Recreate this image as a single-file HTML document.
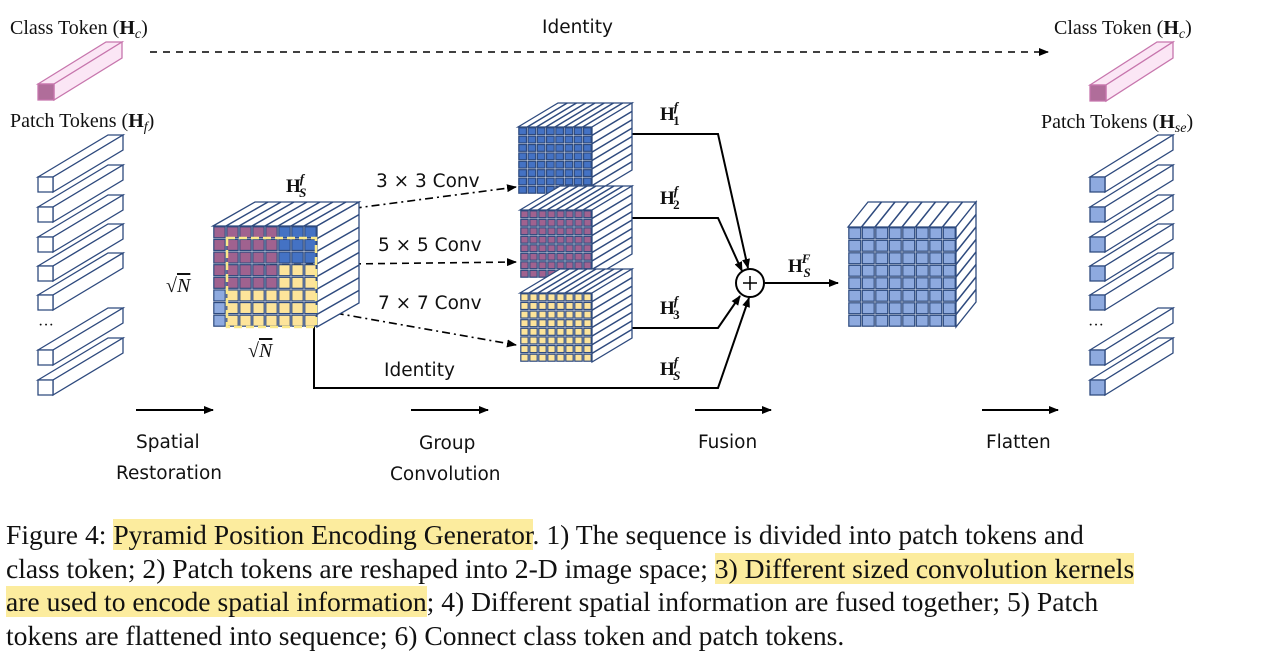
<!DOCTYPE html>
<html><head><meta charset="utf-8"><style>
body{margin:0;background:#fff;width:1276px;height:658px;overflow:hidden;font-family:"Liberation Serif",serif}
svg text{font-family:"Liberation Serif",serif}
svg .sn{font-family:"DejaVu Sans","Liberation Sans",sans-serif}
.cap{position:absolute;left:6px;top:518px;width:1270px;font-size:27.6px;line-height:33.7px;color:#111;white-space:nowrap}
.hl{background:#fcec9e}
</style></head><body>
<svg id="s" width="1276" height="515" style="position:absolute;left:0;top:0" xmlns="http://www.w3.org/2000/svg">
<defs><marker id="a" markerWidth="10" markerHeight="8" refX="9" refY="4" orient="auto" markerUnits="userSpaceOnUse"><path d="M0,0 L10,4 L0,8 z" fill="#000"/></marker></defs>
<g font-size="20" fill="#111">
<text x="10" y="34">Class Token (<tspan font-weight="bold">H</tspan><tspan font-style="italic" font-size="14" dy="4">c</tspan><tspan dy="-4">)</tspan></text>
<text x="10" y="127">Patch Tokens (<tspan font-weight="bold">H</tspan><tspan font-style="italic" font-size="14" dy="4">f</tspan><tspan dy="-4">)</tspan></text>
<text x="1054" y="34">Class Token (<tspan font-weight="bold">H</tspan><tspan font-style="italic" font-size="14" dy="4">c</tspan><tspan dy="-4">)</tspan></text>
<text x="1041" y="128">Patch Tokens (<tspan font-weight="bold">H</tspan><tspan font-style="italic" font-size="14" dy="4">se</tspan><tspan dy="-4">)</tspan></text>
<text x="166" y="292">√<tspan font-style="italic" text-decoration="overline">N</tspan></text>
<text x="248" y="357">√<tspan font-style="italic" text-decoration="overline">N</tspan></text>
<text x="38" y="330" font-size="16">···</text>
<text x="1088" y="330" font-size="16">···</text>
</g>
<g font-size="18.5" fill="#111" class="sn">
<text x="542" y="33" class="sn">Identity</text>
<text x="376" y="187" class="sn">3 × 3 Conv</text>
<text x="378" y="251" class="sn">5 × 5 Conv</text>
<text x="378" y="309" class="sn">7 × 7 Conv</text>
<text x="384" y="376" class="sn">Identity</text>
<text x="136" y="448" class="sn">Spatial</text><text x="116" y="479" class="sn">Restoration</text>
<text x="419" y="449" class="sn">Group</text><text x="390" y="480" class="sn">Convolution</text>
<text x="698" y="448" class="sn">Fusion</text>
<text x="986" y="448" class="sn">Flatten</text>
</g>
<g font-size="19" font-weight="bold" fill="#111">
<text x="286" y="192">H<tspan font-size="13" font-style="italic" dx="-1" dy="-9">f</tspan><tspan font-size="13" font-style="italic" dx="-5" dy="14">S</tspan></text>
<text x="660" y="120">H<tspan font-size="13" font-style="italic" dx="-1" dy="-9">f</tspan><tspan font-size="13" dx="-5" dy="14">1</tspan></text>
<text x="660" y="204">H<tspan font-size="13" font-style="italic" dx="-1" dy="-9">f</tspan><tspan font-size="13" dx="-5" dy="14">2</tspan></text>
<text x="660" y="314">H<tspan font-size="13" font-style="italic" dx="-1" dy="-9">f</tspan><tspan font-size="13" dx="-5" dy="14">3</tspan></text>
<text x="660" y="375">H<tspan font-size="13" font-style="italic" dx="-1" dy="-9">f</tspan><tspan font-size="13" font-style="italic" dx="-5" dy="14">S</tspan></text>
<text x="788" y="272">H<tspan font-size="13" font-style="italic" dx="-1" dy="-9">F</tspan><tspan font-size="13" font-style="italic" dx="-7" dy="14">S</tspan></text>
</g>
<g stroke="#000" stroke-width="2" fill="none">
<line x1="150" y1="52" x2="1048" y2="52" stroke-dasharray="7,6" stroke-width="1.6" marker-end="url(#a)"/>
<line x1="136" y1="410" x2="213" y2="410" marker-end="url(#a)"/>
<line x1="411" y1="410" x2="488" y2="410" marker-end="url(#a)"/>
<line x1="695" y1="410" x2="771" y2="410" marker-end="url(#a)"/>
<line x1="982" y1="410" x2="1058" y2="410" marker-end="url(#a)"/>
<polyline points="631,134 718,134 748,268" marker-end="url(#a)"/>
<polyline points="631,218 718,218 742,271" marker-end="url(#a)"/>
<polyline points="631,328 718,328 740,296" marker-end="url(#a)"/>
<polyline points="314,327 314,388 718,388 749,298" marker-end="url(#a)"/>
<line x1="765" y1="283" x2="838" y2="283" marker-end="url(#a)"/>
<circle cx="750" cy="283" r="14" fill="#fff"/>
<path d="M743,283h14M750,276v14" stroke-width="1.5"/>
<line x1="318" y1="213" x2="516" y2="187" stroke-dasharray="8,4,2,4" stroke-width="1.6" marker-end="url(#a)"/>
<line x1="258" y1="265" x2="516" y2="262" stroke-dasharray="7,5" stroke-width="1.6" marker-end="url(#a)"/>
<line x1="318" y1="310" x2="516" y2="345" stroke-dasharray="8,4,2,4" stroke-width="1.6" marker-end="url(#a)"/>
</g>
<g id="g"></g>
</svg>
<div class="cap">Figure 4: <span class="hl">Pyramid Position Encoding Generator</span>. 1) The sequence is divided into patch tokens and<br>class token; 2) Patch tokens are reshaped into 2-D image space; <span class="hl">3) Different sized convolution kernels</span><br><span class="hl">are used to encode spatial information</span>; 4) Different spatial information are fused together; 5) Patch<br>tokens are flattened into sequence; 6) Connect class token and patch tokens.</div>
<script>
var g=document.getElementById('g'),h='';
var S='#2e4a7e';
function p(pts,f,s,w){return '<polygon points="'+pts.map(function(q){return q.join(',')}).join(' ')+'" fill="'+f+'" stroke="'+s+'" stroke-width="'+(w||1.3)+'"/>';}
function tok(x,y,sz,dx,dy,ff,tf,s){
 h+=p([[x,y],[x+dx,y+dy],[x+dx+sz,y+dy],[x+sz,y]],tf,s);
 h+=p([[x+sz,y],[x+sz+dx,y+dy],[x+sz+dx,y+dy+sz],[x+sz,y+sz]],tf,s);
 h+=p([[x,y],[x+sz,y],[x+sz,y+sz],[x,y+sz]],ff,s);
}
[177,207,237,266,295,350,380].forEach(function(y){tok(38,y,15,70,-42,'#fff','#fff',S);tok(1090,y,15,68,-42,'#8eaadf','#fff',S);});
tok(38,84,16,68,-42,'#b06d9a','#fbe6f5','#c776ad');
tok(1090,85,16,67,-43,'#b06d9a','#fbe6f5','#c776ad');
function cube(x,y,w,hh,n,dx,dy,cf){
 var cw=w/n,ch=hh/n;
 h+=p([[x,y],[x+dx,y+dy],[x+w+dx,y+dy],[x+w,y]],'#fff',S);
 for(var i=1;i<n;i++){h+='<line x1="'+(x+i*cw)+'" y1="'+y+'" x2="'+(x+i*cw+dx)+'" y2="'+(y+dy)+'" stroke="'+S+'" stroke-width="1.5"/>';}
 h+=p([[x+w,y],[x+w+dx,y+dy],[x+w+dx,y+hh+dy],[x+w,y+hh]],'#fff',S);
 for(var i=1;i<n;i++){h+='<line x1="'+(x+w)+'" y1="'+(y+i*ch)+'" x2="'+(x+w+dx)+'" y2="'+(y+i*ch+dy)+'" stroke="'+S+'" stroke-width="1.5"/>';}
 for(var r=0;r<n;r++)for(var c=0;c<n;c++){h+='<rect x="'+(x+c*cw+0.8)+'" y="'+(y+r*ch+0.8)+'" width="'+(cw-1.6)+'" height="'+(ch-1.6)+'" fill="'+cf(r,c)+'" stroke="'+S+'" stroke-width="1.2"/>';}
}
var B='#4472c4',P='#a0628f',Y='#fde49a',L='#8eaadf';
cube(213,226,104,101,8,42,-24,function(r,c){if(c>=5)return r<=2?B:Y;if(r<=4)return P;return c==0?L:Y;});
cube(518,127,74,67,8,40,-24,function(){return B});
cube(520,210,72,68,8,40,-24,function(){return P});
cube(520,293,72,69,8,40,-24,function(){return Y});
cube(848,227,108,100,8,20,-25,function(){return L});
h+='<rect x="227" y="238" width="89" height="89" fill="none" stroke="#fbe98a" stroke-width="2.5" stroke-dasharray="8,4"/>';
g.innerHTML=h;
</script>
</body></html>
